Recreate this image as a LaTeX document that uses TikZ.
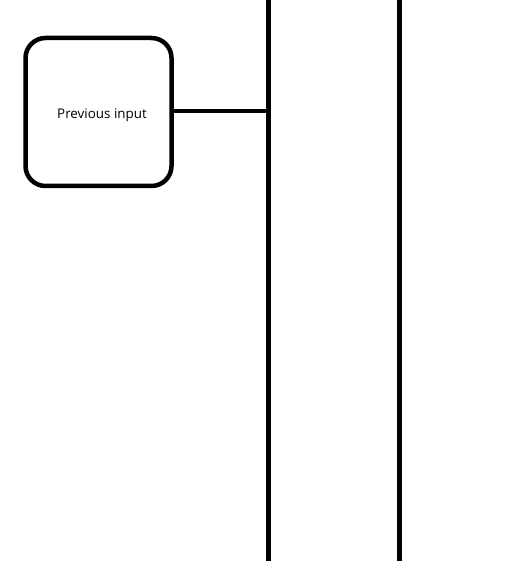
\documentclass[tikz,border=0pt]{standalone}
\usepackage{fontspec}
\setmainfont{Open Sans}
\begin{document}
\begin{tikzpicture}[x=1pt,y=-1pt,
  boxstyle/.style={draw=black, line width=4.5pt, rounded corners=20pt, minimum width=146pt, minimum height=148pt, inner sep=0pt},
  labelstyle/.style={inner sep=0pt, font=\fontsize{13.4}{15}\selectfont},
  thick line/.style={draw=black, line width=4.5pt}]
\useasboundingbox (0,0) rectangle (526,561);
\node[boxstyle] (prev) at (98.5,112) {};
\node[labelstyle, anchor=base] (prevtext) at (102,119) {Previous input};
\coordinate (l1top) at (268.5,0);
\coordinate (l1bot) at (268.5,561);
\coordinate (l2top) at (399.5,0);
\coordinate (l2bot) at (399.5,561);
\coordinate (join) at (268.5,111);
\draw[thick line] (l1top) -- (l1bot);
\draw[thick line] (l2top) -- (l2bot);
\draw[thick line] (prev.east |- join) -- (join);
\end{tikzpicture}
\end{document}
